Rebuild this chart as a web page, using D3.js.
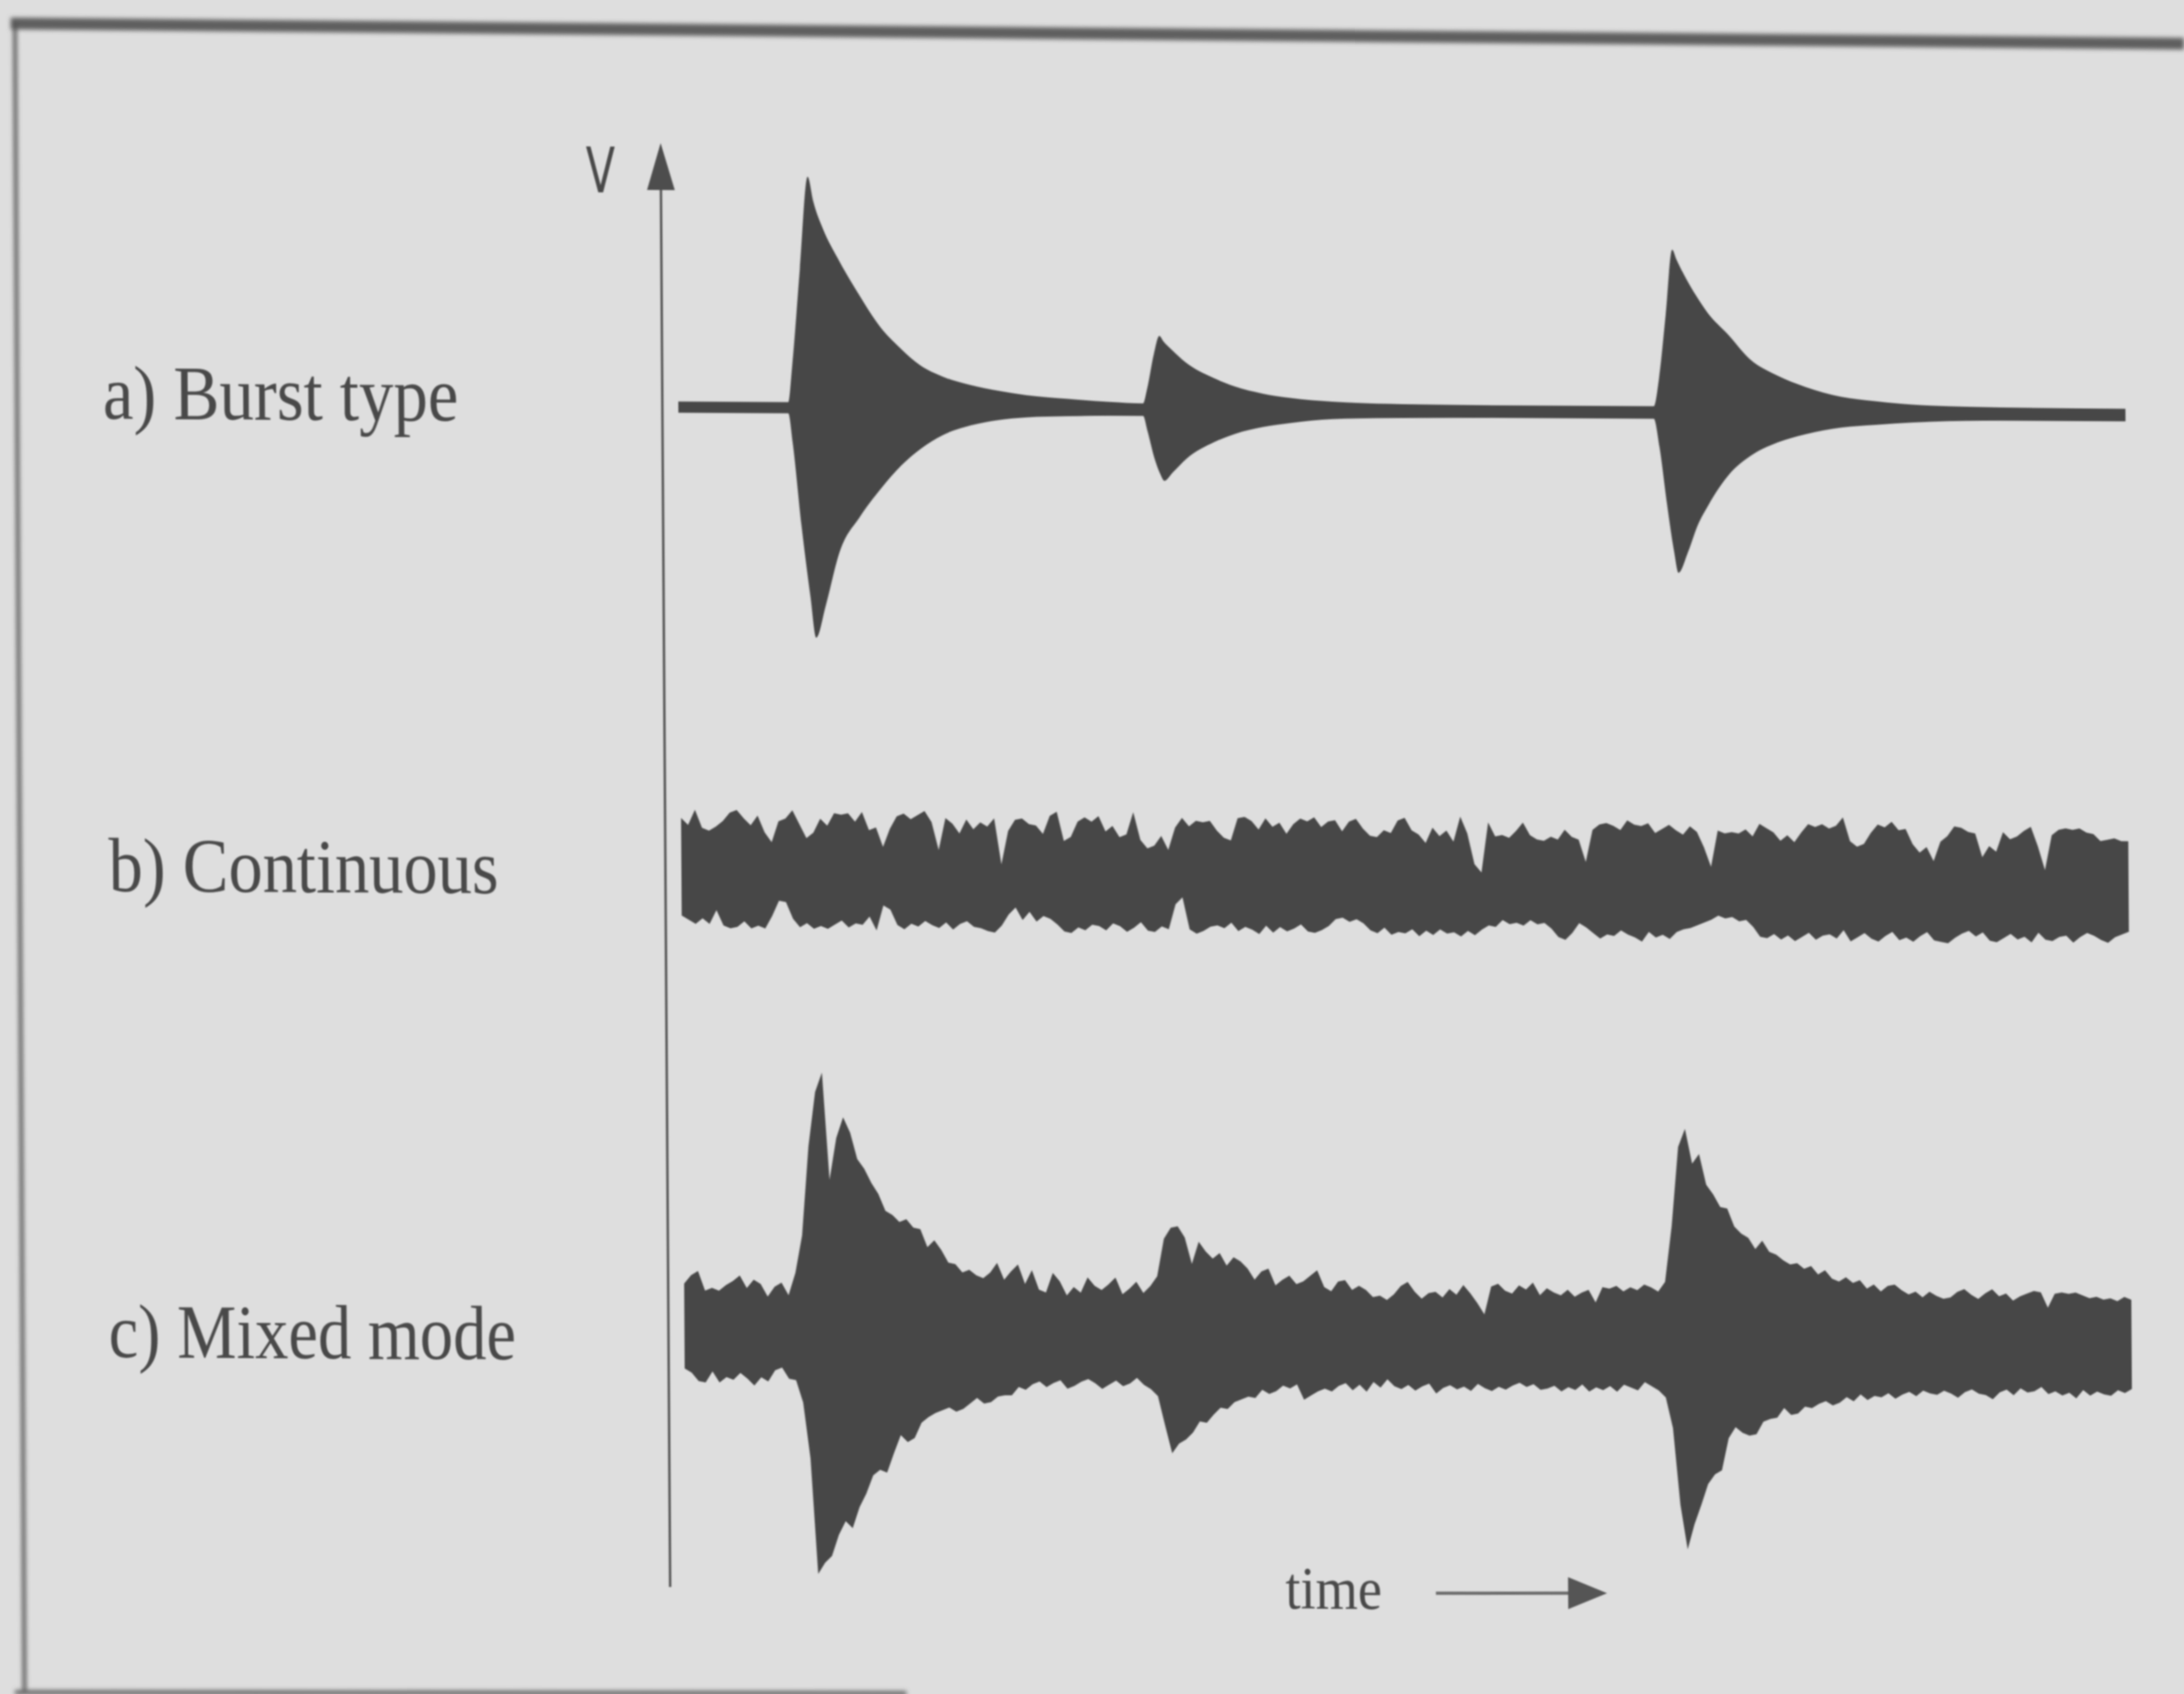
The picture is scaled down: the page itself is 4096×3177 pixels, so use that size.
<!DOCTYPE html>
<html><head><meta charset="utf-8">
<script src="https://cdn.jsdelivr.net/npm/d3@7"></script>
<style>html,body{margin:0;padding:0;background:#dedede;overflow:hidden}</style>
</head><body>
<svg id="chart" width="4096" height="3177"></svg>
<script>
// ---------------- data ----------------
const panelLabels = ["a) Burst type", "b) Continuous", "c) Mixed mode"];
const axisLabel = "V";
const timeLabel = "time";

// a) Burst type: envelope read at irregular times [t], upper and lower amplitude
const burstT = [0,7.9,8.2,8.8,9.4,9.8,10.5,11.5,13,14.5,16,17.4,19,21,23,25,28,31,33.4,33.7,34.2,34.6,34.9,35.5,36.5,38.5,40,42,44,47,52,60,70.1,70.5,71.0,71.5,71.8,72.5,73.2,74,75.5,77,79,81,83.6,86,90,95,104];
const burstTop = [0.4,0.4,3,10,16.6,14.8,12.8,10.8,8.2,5.9,4.3,3.1,2.3,1.7,1.3,1.0,0.75,0.55,0.45,1.5,4.0,5.3,4.9,4.3,3.4,2.3,1.7,1.2,0.9,0.65,0.5,0.45,0.45,2.5,7.0,11.7,11.0,9.6,8.4,7.2,5.6,3.9,2.7,1.9,1.2,0.9,0.6,0.5,0.45];
const burstBottom = [-0.4,-0.4,-2.5,-8.5,-13.5,-16.5,-14.2,-10.4,-7.8,-5.8,-4.1,-2.9,-1.9,-1.2,-0.8,-0.6,-0.5,-0.45,-0.45,-1.5,-3.5,-4.6,-5.1,-4.5,-3.5,-2.3,-1.7,-1.2,-0.9,-0.6,-0.5,-0.45,-0.45,-2.5,-6.5,-10,-11.5,-10,-8.1,-6.6,-4.4,-3.1,-2.1,-1.5,-1.0,-0.8,-0.55,-0.45,-0.45];

// b) and c): upper / lower excursion sampled every tStep time units (t = 0 .. 104)
const tStep = 0.5;
const contTop = [
4.0,3.5,4.6,3.3,3.1,3.4,3.8,4.4,4.6,4.0, 3.5,4.2,3.0,2.3,3.8,4.0,4.6,3.6,2.6,3.0,
4.0,3.5,4.4,4.3,4.4,3.8,4.5,3.2,3.4,2.0, 3.3,4.2,4.4,4.0,4.3,4.6,3.8,1.8,4.1,3.7,
3.0,4.0,3.3,3.8,3.5,4.1,0.8,3.2,4.0,4.1, 3.7,3.6,3.0,4.3,4.6,2.5,2.8,3.9,4.2,3.9,
4.3,3.2,3.6,2.8,3.0,4.6,2.6,2.0,2.2,2.9, 1.9,3.5,4.2,3.6,4.0,3.9,4.0,3.3,2.8,2.6,
4.2,4.3,4.0,3.4,4.2,3.6,3.9,3.1,3.8,4.2, 4.0,4.3,3.6,4.0,4.1,3.3,4.0,4.2,3.5,3.0,
2.9,3.4,3.2,4.1,4.3,3.4,3.1,2.5,3.6,3.0, 3.4,2.6,4.4,3.2,1.0,0.4,4.0,3.0,3.1,2.9,
3.4,4.0,3.1,2.8,2.7,3.0,2.8,3.5,3.0,2.8, 1.2,3.5,3.9,4.0,3.8,3.5,4.2,3.9,3.8,4.0,
3.3,3.6,3.9,3.5,3.2,3.8,3.4,2.3,0.9,3.5, 3.3,3.4,3.3,3.6,3.1,4.0,3.7,3.4,2.8,3.2,
2.7,3.4,4.0,3.8,4.0,3.7,3.9,4.5,2.8,2.4, 2.6,3.4,4.0,3.8,4.2,3.6,3.7,2.6,2.0,2.4,
1.4,2.8,3.2,3.9,3.8,3.5,3.4,1.7,2.5,2.1, 3.5,3.0,3.2,3.6,3.9,2.5,0.8,3.3,3.7,3.8,
3.7,3.8,3.5,3.4,2.9,3.0,3.1,2.9,2.9];
const contBottom = [
-3.0,-3.3,-3.6,-3.2,-3.6,-2.6,-3.7,-3.9,-3.8,-3.4, -3.9,-3.7,-3.9,-3.0,-1.9,-2.0,-3.2,-3.8,-3.5,-3.9,
-3.7,-3.9,-3.6,-3.3,-3.8,-3.5,-3.6,-3.0,-4.0,-2.2, -2.5,-3.6,-3.9,-3.5,-3.7,-3.3,-3.6,-3.8,-3.4,-3.9,
-3.5,-3.3,-3.7,-3.8,-4.0,-4.1,-3.6,-2.8,-2.3,-3.2, -2.6,-3.3,-2.9,-3.1,-3.5,-4.0,-4.1,-3.7,-3.9,-3.5,
-3.6,-3.9,-3.4,-3.6,-4.0,-3.7,-3.3,-3.9,-4.0,-3.6, -3.8,-2.0,-1.5,-3.8,-4.1,-3.9,-3.6,-3.5,-3.7,-3.3,
-3.9,-3.6,-3.8,-4.1,-3.5,-4.0,-3.6,-3.9,-3.7,-3.4, -3.9,-4.0,-3.8,-3.5,-3.0,-2.9,-3.2,-3.0,-3.3,-3.8,
-4.0,-3.6,-4.1,-3.9,-4.0,-3.7,-4.2,-3.8,-4.1,-3.7, -4.0,-3.9,-4.2,-3.8,-4.1,-3.7,-3.4,-3.5,-3.0,-3.3,
-3.2,-3.4,-3.0,-3.3,-3.2,-3.6,-4.2,-4.4,-3.9,-3.2, -3.5,-3.9,-4.3,-4.0,-4.1,-3.7,-4.0,-4.2,-4.5,-3.8,
-4.2,-4.0,-4.3,-3.8,-3.6,-3.5,-3.3,-3.1,-2.9,-2.6, -2.8,-2.7,-3.0,-2.9,-3.4,-4.1,-4.2,-3.9,-4.3,-4.0,
-4.4,-4.1,-3.8,-4.3,-4.0,-3.9,-4.2,-3.6,-4.4,-4.1, -3.8,-4.2,-4.4,-4.0,-3.7,-4.3,-4.1,-4.4,-4.0,-3.7,
-4.3,-4.4,-4.5,-4.1,-3.8,-3.6,-4.0,-3.7,-4.3,-4.4, -4.1,-3.8,-4.2,-4.0,-4.4,-3.7,-4.2,-4.3,-4.0,-3.9,
-4.4,-4.0,-3.7,-3.9,-4.2,-4.4,-4.0,-3.8,-3.6];
const mixedTop = [
3.5,4.1,4.4,3.0,3.2,3.0,3.4,3.7,4.1,3.2, 3.8,3.5,2.6,3.3,3.6,2.7,4.3,7.0,13.4,17.3,
18.7,11.0,14.0,15.5,14.4,12.5,11.8,10.8,10.0,8.8, 8.5,8.0,8.2,7.6,7.5,6.2,6.7,6.0,5.1,5.0,
4.4,4.6,4.2,4.0,4.4,5.1,3.9,4.5,5.0,3.6, 4.6,3.2,3.0,4.4,3.8,2.8,3.4,3.0,4.1,3.5,
3.2,3.6,4.1,2.9,3.3,3.8,3.0,3.5,4.2,6.9, 7.7,7.8,7.0,5.1,6.7,6.0,5.5,5.9,5.0,5.6,
5.3,4.8,4.0,4.6,4.8,3.6,4.0,4.3,3.7,3.9, 4.3,4.7,3.5,3.2,3.9,4.0,3.3,3.6,3.3,2.8,
2.9,2.6,3.0,3.6,3.9,3.2,2.7,3.1,3.2,2.8, 3.4,3.0,3.7,3.1,2.4,1.6,3.6,3.8,3.3,3.1,
3.7,3.4,3.9,3.0,3.5,3.2,3.0,3.4,2.9,3.2, 3.4,2.5,3.6,3.5,3.7,3.3,3.6,3.4,3.8,3.6,
3.3,4.0,8.0,13.7,15.0,12.5,13.2,11.0,10.3,9.4, 9.3,8.0,7.5,7.2,6.4,7.0,6.2,6.0,5.6,5.3,
5.4,5.0,5.2,4.6,4.9,4.3,4.1,4.4,4.0,4.2, 3.6,3.9,3.4,3.8,3.9,3.5,3.2,3.4,3.0,3.4,
3.1,2.9,3.0,3.4,3.6,3.2,2.9,3.3,3.6,3.1, 3.3,2.8,3.1,3.3,3.5,3.4,2.3,3.3,3.4,3.3,
3.4,3.2,3.0,3.1,2.9,3.0,2.8,3.1,2.9];
const mixedBottom = [
-2.6,-2.9,-3.5,-3.6,-2.8,-3.6,-3.2,-3.4,-2.9,-3.3, -3.8,-3.2,-3.5,-2.7,-2.5,-3.3,-3.4,-5.0,-9.0,-17.3,
-16.5,-16.0,-14.5,-13.5,-14.0,-12.5,-11.5,-10.2,-9.8,-10.0, -8.6,-7.3,-7.8,-7.5,-6.4,-6.0,-5.7,-5.5,-5.3,-5.6,
-5.4,-5.0,-4.6,-5.0,-4.9,-4.5,-4.4,-4.4,-3.8,-4.0, -3.6,-3.4,-3.8,-3.5,-3.3,-3.9,-3.7,-3.4,-3.2,-3.5,
-3.9,-3.6,-3.3,-3.7,-3.5,-3.1,-3.6,-3.9,-4.4,-6.5, -8.5,-7.8,-7.5,-7.0,-6.2,-6.3,-5.7,-5.2,-5.3,-4.8,
-4.6,-4.4,-4.5,-3.9,-4.2,-4.0,-3.6,-3.8,-3.5,-4.6, -4.3,-4.0,-3.8,-4.0,-3.6,-3.4,-3.9,-3.5,-4.0,-3.3,
-3.7,-3.1,-3.6,-3.8,-3.5,-3.9,-3.6,-3.4,-4.1,-3.7, -3.5,-3.8,-3.6,-3.9,-3.4,-3.7,-3.9,-3.6,-3.8,-3.5,
-3.3,-3.6,-3.4,-3.8,-3.7,-3.5,-3.9,-3.6,-3.8,-3.4, -3.9,-3.6,-3.8,-3.5,-3.9,-3.4,-3.6,-3.8,-3.2,-3.5,
-3.8,-4.3,-6.5,-12.0,-15.2,-13.4,-12.0,-10.5,-9.8,-9.5, -7.2,-6.4,-6.8,-7.0,-6.9,-6.0,-5.8,-5.7,-5.0,-5.5,
-5.4,-4.9,-5.0,-4.7,-4.5,-4.8,-4.6,-4.2,-4.5,-4.0, -4.4,-4.1,-4.2,-3.9,-4.3,-4.0,-3.8,-4.1,-3.7,-3.9,
-4.0,-3.7,-3.9,-4.2,-3.8,-3.6,-3.9,-4.0,-4.3,-3.8, -3.6,-4.0,-3.5,-3.8,-3.7,-3.4,-3.9,-3.7,-4.0,-3.8,
-4.2,-3.6,-4.0,-3.7,-3.9,-4.0,-3.6,-3.8,-3.5];

// ---------------- layout ----------------
const W = 4096, H = 3177;
const ink = "#474747", textInk = "#4a4a4a";
const svg = d3.select("#chart");
svg.append("rect").attr("width", W).attr("height", H).attr("fill", "#dedede");

const defs = svg.append("defs");
defs.append("filter").attr("id", "soft").append("feGaussianBlur").attr("stdDeviation", 1.6);
defs.append("filter").attr("id", "softer").append("feGaussianBlur").attr("stdDeviation", 4);

// photographed frame
const frame = svg.append("g").attr("filter", "url(#softer)");
frame.append("line").attr("x1", 20).attr("y1", 44).attr("x2", W).attr("y2", 82)
  .attr("stroke", "#5e5e5e").attr("stroke-width", 22);
frame.append("line").attr("x1", 28).attr("y1", 40).attr("x2", 46).attr("y2", H)
  .attr("stroke", "#555").attr("stroke-width", 7);
frame.append("line").attr("x1", 28).attr("y1", 3174).attr("x2", 1700).attr("y2", 3176)
  .attr("stroke", "#666").attr("stroke-width", 9);

// slight shear of the photographed figure
const cx = 2633, cy = 1646, k = 0.0066, m = 0.0055;
const inv = (X, Y) => [X - k * (Y - cy), Y - m * (X - cx)];
const g = svg.append("g")
  .attr("transform", `matrix(1,${m},${k},1,${-k * cy},${-m * cx})`)
  .attr("filter", "url(#soft)");

const x = d3.scaleLinear().domain([0, 104]).range([1278, 3992]);
const unit = 26.12;
const bases = [771, 1646, 2506];
const yScales = bases.map(b => d3.scaleLinear().domain([-20, 20]).range([b + 20 * unit, b - 20 * unit]));

// a) burst
const burstData = burstT.map((t, i) => ({t, hi: burstTop[i], lo: burstBottom[i]}));
g.append("path").datum(burstData)
  .attr("fill", ink)
  .attr("d", d3.area().curve(d3.curveMonotoneX)
    .x(d => x(d.t)).y0(d => yScales[0](d.lo)).y1(d => yScales[0](d.hi)));

// b) continuous and c) mixed
function noisy(top, bottom, ys) {
  const data = top.map((v, i) => ({t: i * tStep, hi: v, lo: bottom[i]}));
  g.append("path").datum(data)
    .attr("fill", ink)
    .attr("d", d3.area().curve(d3.curveLinear)
      .x(d => x(d.t)).y0(d => ys(d.lo)).y1(d => ys(d.hi)));
}
noisy(contTop, contBottom, yScales[1]);
noisy(mixedTop, mixedBottom, yScales[2]);

// y axis with arrow
const axX = 1248, axTop = 276, axBottom = 2984;
g.append("line").attr("x1", axX).attr("x2", axX).attr("y1", axTop + 60).attr("y2", axBottom)
  .attr("stroke", "#575757").attr("stroke-width", 4.5);
g.append("path").attr("fill", "#4e4e4e")
  .attr("d", `M${axX},${axTop} L${axX + 26},${axTop + 88} L${axX - 26},${axTop + 88} Z`);

// labels
function label(txt, X, Y, size, len, family) {
  const p = inv(X, Y);
  g.append("text").attr("x", p[0]).attr("y", p[1])
    .attr("font-family", family || "'Liberation Serif', 'Times New Roman', serif")
    .attr("font-size", size).attr("fill", textInk)
    .attr("textLength", len).attr("lengthAdjust", "spacingAndGlyphs")
    .text(txt);
}
label(panelLabels[0], 193, 786, 145, 667);
label(panelLabels[1], 204, 1672, 145, 731);
label(panelLabels[2], 204, 2546, 145, 764);
label(axisLabel, 1099, 361, 118, 55, "'DejaVu Sans', sans-serif");
label(timeLabel, 2411, 3017, 112, 181);

// time arrow
const a0 = inv(2693, 2988), a1 = inv(2945, 2988), tip = inv(3014, 2988);
g.append("line").attr("x1", a0[0]).attr("y1", a0[1]).attr("x2", a1[0]).attr("y2", a1[1])
  .attr("stroke", "#6a6a6a").attr("stroke-width", 6);
g.append("path").attr("fill", "#555")
  .attr("d", `M${tip[0]},${tip[1]} L${a1[0] - 4},${a1[1] - 30} L${a1[0] - 4},${a1[1] + 30} Z`);
</script>
</body></html>
